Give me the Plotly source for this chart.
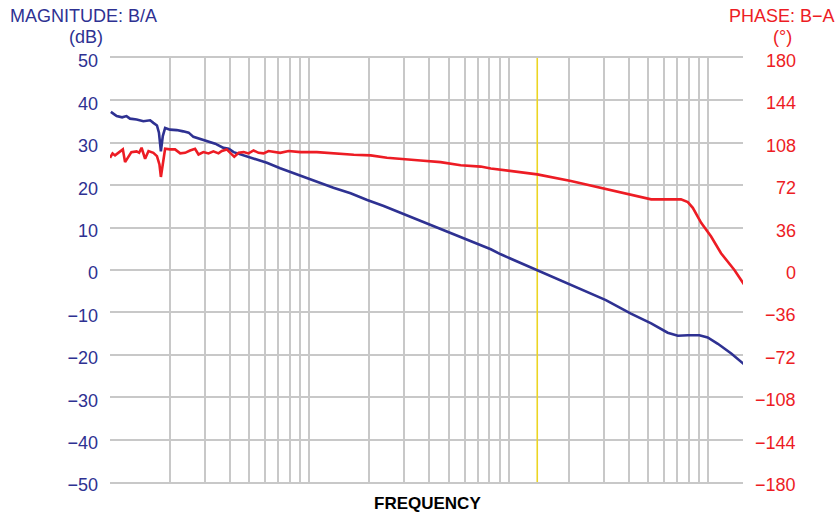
import plotly.graph_objects as go

# Magnitude trace (frequency in relative units, magnitude in dB)
mag_freq = [1.01, 1.08, 1.15, 1.21, 1.26, 1.36, 1.47, 1.59, 1.65, 1.72, 1.76, 1.80, 1.84, 1.89,
            2.00, 2.16, 2.33, 2.48, 2.62, 2.83, 3.00, 3.37, 3.71, 3.94, 4.17, 4.50, 5.06, 6.12,
            7.14, 8.34, 10.1, 13.2, 16.1, 19.5, 23.6, 28.6, 36.1, 53.1, 81.3, 91.2, 139, 205,
            307, 410, 518, 627, 705, 791, 904, 995, 1119, 1306, 1521]
mag_db = [37.3, 36.3, 36.0, 36.3, 35.7, 35.5, 35.1, 35.3, 34.7, 34.1, 32.4, 28.0, 31.6, 33.5,
          33.1, 33.0, 32.7, 32.4, 31.4, 30.9, 30.4, 29.8, 28.8, 28.6, 27.8, 27.3, 26.5, 25.3,
          24.0, 22.8, 21.4, 19.4, 18.1, 16.5, 15.1, 13.5, 11.6, 8.4, 4.9, 3.7, 0.0, -3.4,
          -7.1, -10.3, -12.6, -14.8, -15.5, -15.4, -15.4, -15.9, -17.4, -19.7, -22.3]

# Phase trace (degrees)
ph_freq = [1.00, 1.03, 1.06, 1.10, 1.16, 1.19, 1.24, 1.28, 1.36, 1.40, 1.44, 1.50, 1.56, 1.65,
           1.72, 1.77, 1.80, 1.84, 1.89, 2.00, 2.12, 2.25, 2.38, 2.52, 2.67, 2.78, 2.94, 3.12,
           3.30, 3.50, 3.64, 3.85, 4.01, 4.20, 4.42, 4.68, 4.95, 5.25, 5.56, 5.89, 6.24, 7.14,
           7.87, 9.02, 10.9, 13.2, 16.7, 20.3, 24.5, 36.1, 45.5, 57.4, 72.3, 81.3, 102, 139,
           205, 301, 410, 518, 627, 731, 791, 838, 923, 1035, 1161, 1355, 1521]
ph_deg = [95.3, 99, 97.3, 99.5, 102.4, 91.6, 96.7, 100.1, 100.7, 99.5, 103.8, 94.4, 101, 99.5,
          96.7, 89.6, 79, 91.1, 102.9, 102.4, 102.4, 99, 99.5, 101.5, 102.9, 98.1, 100.1, 99,
          100.7, 99, 101, 102.4, 99, 96.1, 99.5, 100.1, 99, 101.5, 99.5, 99, 101, 99.5,
          101, 100.1, 100.1, 99, 97.8, 97.3, 95.3, 93.0, 91.6, 89.0, 87.8, 86.2, 84.0, 81.2,
          75.5, 69, 63.4, 60, 60, 60, 57.7, 52.8, 40.1, 28.4, 14.2, 0, -12.8]

crossover_freq = [139, 139]
crossover_db = [-50, 50]

mag_ticks = [50, 40, 30, 20, 10, 0, -10, -20, -30, -40, -50]
phase_ticks = [180, 144, 108, 72, 36, 0, -36, -72, -108, -144, -180]

BLUE = "#2e3192"
RED = "#ed1c24"
YELLOW = "#ecd523"
GRID = "#c8c8c8"
FONT = "Liberation Sans, Arial, sans-serif"

W, H = 839, 512
ML, MR, MT, MB = 110, 96, 58, 30
PW, PH = W - ML - MR, H - MT - MB


def px_x(x):
    return (x - ML) / PW


def px_y(y):
    return 1 + (MT - y) / PH


fig = go.Figure()
fig.add_trace(go.Scatter(x=crossover_freq, y=crossover_db, mode="lines",
                         line=dict(color=YELLOW, width=1.6), hoverinfo="skip", showlegend=False))
fig.add_trace(go.Scatter(x=ph_freq, y=ph_deg, mode="lines", yaxis="y2",
                         line=dict(color=RED, width=2.6), showlegend=False))
fig.add_trace(go.Scatter(x=mag_freq, y=mag_db, mode="lines",
                         line=dict(color=BLUE, width=2.6), showlegend=False))

annotations = [
    dict(text="MAGNITUDE: B/A", x=px_x(83), y=px_y(16), font=dict(size=18, color=BLUE)),
    dict(text="(dB)", x=px_x(86), y=px_y(37), font=dict(size=18, color=BLUE)),
    dict(text="PHASE: B\u2212A", x=px_x(782), y=px_y(16), font=dict(size=18, color=RED)),
    dict(text="(\u00b0)", x=px_x(782), y=px_y(37), font=dict(size=18, color=RED)),
    dict(text="<b>FREQUENCY</b>", x=px_x(427), y=px_y(503.5), font=dict(size=17, color="black")),
]
for a in annotations:
    a.update(xref="paper", yref="paper", showarrow=False, xanchor="center", yanchor="middle",
             borderpad=0)

# right-aligned phase tick labels
for v in phase_ticks:
    label = ("\u2212" + str(-v)) if v < 0 else str(v)
    annotations.append(dict(text=label, x=px_x(798), y=v, xref="paper", yref="y2",
                            xanchor="right", yanchor="middle", yshift=-3, showarrow=False,
                            font=dict(size=18, color=RED)))

fig.update_layout(
    width=W, height=H,
    margin=dict(l=ML, r=MR, t=MT, b=MB),
    plot_bgcolor="white", paper_bgcolor="white",
    font=dict(family=FONT),
    xaxis=dict(type="log", range=[0, 3.175], dtick="D1", showticklabels=False,
               showgrid=True, gridcolor=GRID, gridwidth=1.5,
               showline=True, linecolor=GRID, linewidth=1.5, mirror=True,
               ticks="", zeroline=False, automargin=False),
    yaxis=dict(range=[-50, 50], tickvals=mag_ticks, showgrid=True, gridcolor=GRID, gridwidth=1.5,
               zeroline=False, showline=False, ticks="", automargin=False,
               tickfont=dict(size=18, color=BLUE), ticklabelstandoff=11, ticklabelshift=3),
    yaxis2=dict(range=[-180, 180], tickvals=phase_ticks, overlaying="y", side="right",
                showgrid=False, zeroline=False, showline=False, ticks="", automargin=False,
                showticklabels=False),
    annotations=annotations,
)

fig.write_html("out.html", config={"displayModeBar": False},
               post_script="document.body.style.margin='0';document.body.style.overflow='hidden';")
